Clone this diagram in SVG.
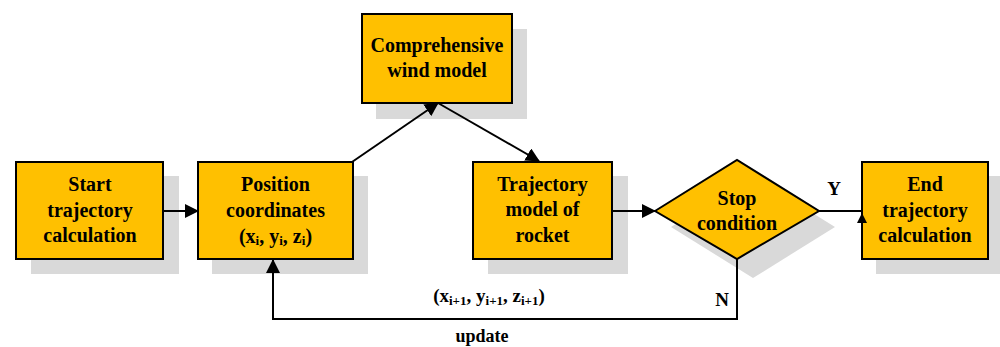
<svg xmlns="http://www.w3.org/2000/svg" width="1000" height="347" viewBox="0 0 1000 347">
<style>
.sh{fill:#D9D9D9;stroke:none}
.bx{fill:#FFC000;stroke:#000;stroke-width:2}
.t{font-family:'Liberation Serif','Tinos','Times New Roman','DejaVu Serif',serif;font-weight:bold;font-size:20px;fill:#000;text-anchor:middle}
.c{fill:none;stroke:#000;stroke-width:2}
.sub{font-size:13px}
</style>
<defs>
<marker id="ah" viewBox="0 0 14 14" refX="13" refY="7" markerWidth="14" markerHeight="14" markerUnits="userSpaceOnUse" orient="auto">
<path d="M0,0 L14,7 L0,14 Z" fill="#000"/>
</marker>
</defs>
<rect width="1000" height="347" fill="#fff"/>
<g id="start">
<rect class="sh" x="31" y="176" width="148" height="98"/>
<rect class="bx" x="16" y="162" width="147" height="97"/>
<text class="t" x="90" y="191">Start</text>
<text class="t" x="90" y="217">trajectory</text>
<text class="t" x="90" y="242">calculation</text>
</g>
<g id="position">
<rect class="sh" x="212" y="176" width="156" height="98"/>
<rect class="bx" x="198" y="162" width="155" height="97"/>
<text class="t" x="275.5" y="191">Position</text>
<text class="t" x="275.5" y="217">coordinates</text>
<text class="t" x="275.5" y="243">(x<tspan class="sub" dy="2">i</tspan><tspan dy="-2">, y</tspan><tspan class="sub" dy="2">i</tspan><tspan dy="-2">, z</tspan><tspan class="sub" dy="2">i</tspan><tspan dy="-2">)</tspan></text>
</g>
<g id="wind">
<rect class="sh" x="376" y="29" width="151" height="90"/>
<rect class="bx" x="362" y="14" width="150" height="89"/>
<text class="t" x="437" y="52">Comprehensive</text>
<text class="t" x="437" y="77">wind model</text>
</g>
<g id="trajectory">
<rect class="sh" x="488" y="176" width="140" height="98"/>
<rect class="bx" x="473" y="162" width="139" height="97"/>
<text class="t" x="542.5" y="191">Trajectory</text>
<text class="t" x="542.5" y="216">model of</text>
<text class="t" x="542.5" y="242">rocket</text>
</g>
<g id="stop">
<polygon class="sh" points="671,227 753,176 835,227 753,278"/>
<polygon class="bx" points="655,211 737,160 819,211 737,259"/>
<text class="t" x="737" y="205">Stop</text>
<text class="t" x="737" y="230">condition</text>
</g>
<g id="end">
<rect class="sh" x="876" y="176" width="124" height="98"/>
<rect class="bx" x="862" y="162" width="126" height="97"/>
<text class="t" x="925" y="191">End</text>
<text class="t" x="925" y="217">trajectory</text>
<text class="t" x="925" y="242">calculation</text>
</g>
<g id="connectors">
<line class="c" x1="163" y1="211" x2="198" y2="211" marker-end="url(#ah)"/>
<line class="c" x1="352" y1="162" x2="438" y2="103" marker-end="url(#ah)"/>
<line class="c" x1="438" y1="103" x2="539" y2="161" marker-end="url(#ah)"/>
<line class="c" x1="612" y1="211" x2="655" y2="211" marker-end="url(#ah)"/>
<line class="c" x1="819" y1="211" x2="862" y2="211"/>
<path d="M862,213 L867,223 L857,223 Z" fill="#000"/>
<polyline class="c" points="737,259 737,319 273,319 273,260" marker-end="url(#ah)"/>
<text class="t" x="834" y="195" style="font-size:19px">Y</text>
<text class="t" x="722" y="306" style="font-size:19px">N</text>
<text class="t" x="489" y="302" style="font-size:19px">(x<tspan class="sub" dy="3">i+1</tspan><tspan dy="-3">, y</tspan><tspan class="sub" dy="3">i+1</tspan><tspan dy="-3">, z</tspan><tspan class="sub" dy="3">i+1</tspan><tspan dy="-3">)</tspan></text>
<text class="t" x="482" y="342" style="font-size:18px">update</text>
</g>
</svg>
